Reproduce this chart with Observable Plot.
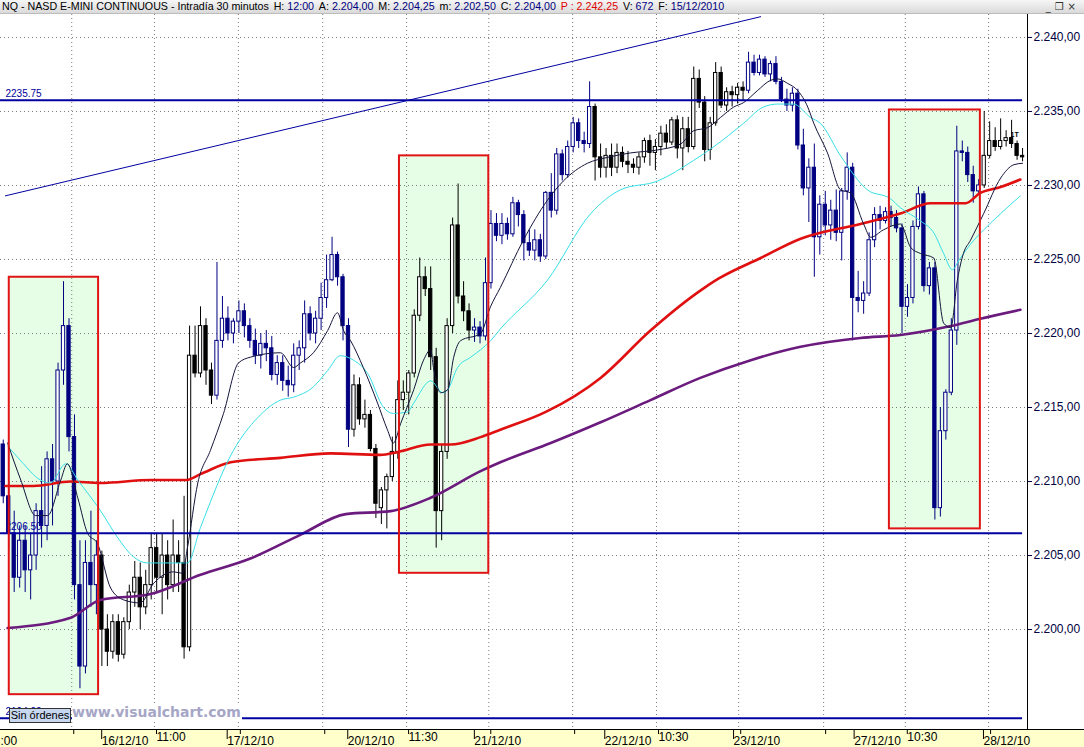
<!DOCTYPE html>
<html>
<head>
<meta charset="utf-8">
<script src="https://cdn.jsdelivr.net/npm/d3@7"></script>
<script src="https://cdn.jsdelivr.net/npm/@observablehq/plot@0.6"></script>
<style>
  body { margin: 0; width: 1084px; height: 747px; overflow: hidden; background: #fff; position: relative;
         font-family: "Liberation Sans", Arial, sans-serif; }
  #head { height: 14px; background: linear-gradient(#f6f6f6, #dadada); border-bottom: 1px solid #bcbcbc;
          box-sizing: border-box; position: relative; overflow: hidden; white-space: nowrap; }
  #title { position: absolute; left: 2px; top: 0; font: 11px/13px "Liberation Sans Narrow", "Liberation Sans", sans-serif;
           color: #000; transform-origin: 0 0; }
  #title .v { color: #000080; }
  #title .p { color: #e00000; }
  #title span.f { margin-right: 5px; }
  #btns { position: absolute; right: 4px; top: 0; font: 10px/13px "DejaVu Sans", sans-serif; color: #333; letter-spacing: 4px; }
  #chart { position: absolute; left: 0; top: 14px; }
  #mark { position: absolute; left: 72px; top: 704px; font: bold 14px "DejaVu Sans", sans-serif; color: #a6a6c6;
          background: #fff; line-height: 17px; padding-right: 1px; }
  #orders { position: absolute; left: 9px; top: 708px; width: 60px; height: 13px; background: #c6d7ef;
            border: 1px solid #333; font: 11px/13px "Liberation Sans", sans-serif; text-align: center; }
</style>
</head>
<body>
<div id="head"><div id="title"></div><div id="btns">_❐×</div></div>
<div id="chart"></div>
<div id="mark">www.visualchart.com</div>
<div id="orders">Sin órdenes</div>
<script>
/* Cabecera */
const titleText = "NQ - NASD E-MINI CONTINUOUS - Intradía 30 minutos"
const headerFields = [["H:", "12:00"], ["A:", "2.204,00"], ["M:", "2.204,25"], ["m:", "2.202,50"],
  ["C:", "2.204,00"], ["P :", "2.242,25"], ["V:", "672"], ["F:", "15/12/2010"]]

/* Velas de 1 hora (apertura, máximo, mínimo, cierre) */
const opens = [2212.5,2209,2206.5,2203.5,2206,2204,2205,2208,2207,2211.5,2210,2217.5,2220.5,2213,2203,2197.5,2204.5,2203,
  2205,2200,2198.5,2200.5,2198.3,2200.5,2202.5,2203.5,2201.5,2203,2205.5,2203.5,2205,2203,2205,2204.5,2198.8,
  2218.5,2217.3,2220.5,2217.5,2215.8,2219.5,2221,2220,2220.8,2221.5,2220.5,2219.5,2218.5,2219.3,2219,2217.2,2218,2216.8,
  2216.5,2218.5,2219,2221.3,2220,2221,2222.4,2223.6,2225.3,2223.8,2220.5,2213.5,2216.5,2214.2,2214.5,2212.2,2208.2,2209.4,
  2210.3,2212,2215.5,2216,2217.3,2221.2,2223.8,2223,2218.4,2208,2212,2220.5,2227.3,2222.5,2221.5,2220.2,2220.4,2219.8,
  2223.4,2227.4,2226.6,2227.4,2226.7,2228.8,2228,2226.1,2225.6,2226.3,2225.2,2229.5,2228.3,2232.1,2230.7,2232.6,2234.2,
  2233,2232.8,2235.3,2231.9,2231.2,2232,2231.2,2232.2,2231.6,2231.4,2231.2,2231.9,2233,2232.2,2232.6,2233.5,2232.9,
  2234.4,2232.5,2233.8,2232.6,2237.2,2235.6,2232.4,2234.2,2237.6,2235.4,2236.3,2236.1,2236.6,2236.4,2238.3,2237.6,
  2238.5,2237.5,2238.2,2237,2235.8,2235.4,2236.2,2232.7,2229.8,2231.2,2226.5,2228.7,2227.3,2228.3,2226.8,2229.6,
  2231.2,2222.4,2222.2,2222.7,2226.3,2228,2227.6,2228.2,2227.8,2227.1,2221.8,2222.4,2227.2,2229.4,2223.2,2224.4,
  2208.2,2213.4,2216,2220.2,2232.3,2232.2,2230.7,2229.6,2230,2232,2233,2232.6,2233,2233.2,2232.8,2232]
const highs = [2212.8,2210,2208,2207,2207,2206.5,2208.5,2211,2212,2212.5,2218,2223.5,2221,2214.5,2206,2206,2208,2206,
  2205.3,2201,2201,2201,2200.8,2203,2204.6,2204.5,2204,2206.5,2206.5,2206.5,2206,2207.4,2206,2209,2220.5,
  2220.5,2221.8,2221,2218,2224.8,2222.5,2221.8,2221,2222.2,2222,2221,2220.3,2220,2220.2,2219.8,2218.5,2218.5,2217.8,
  2219.3,2219.5,2222.2,2221.8,2221.5,2223.4,2225.3,2226.5,2225.5,2224,2221,2217.2,2217,2215.5,2214.8,2212.5,2209.6,2210.5,
  2213,2216.8,2216.8,2217.5,2221.6,2225.1,2224.5,2224.5,2219,2212.5,2221,2227.8,2230.1,2223.5,2222,2221,2220.8,2225.1,
  2228.3,2228.1,2228.1,2227.8,2229.2,2229,2228.3,2227,2227,2226.7,2229.6,2230.8,2232.5,2232.4,2233,2234.6,2234.5,
  2233.6,2237,2235.5,2232.8,2232.5,2232.8,2232.8,2232.6,2232.3,2231.8,2232.2,2233.2,2233.4,2233.1,2234,2234.1,2234.6,
  2234.7,2234.6,2234.6,2238,2237.8,2236,2234.6,2238.3,2238,2236.6,2236.7,2236.9,2237,2239,2238.8,2238.8,
  2238.7,2238.4,2238.7,2237.3,2236.5,2236.6,2236.5,2233.8,2231.8,2232.8,2229.3,2229.6,2229,2229.7,2229.8,2232.2,
  2231.5,2224.2,2223.5,2226.8,2228.5,2228.6,2228.5,2228.6,2228.3,2227.4,2223.3,2227.6,2229.9,2229.6,2224.8,2224.8,
  2215,2216.2,2221,2234,2233,2232.6,2231.3,2230.4,2235,2234.3,2233.9,2234.5,2233.7,2234.4,2233,2232.5]
const lows = [2208.5,2205.5,2202.5,2202.8,2202.5,2202,2204,2205.5,2206,2207,2209,2216.5,2212,2202,2196,2197,2201.5,2201,
  2197.5,2197.5,2198,2197.8,2198,2200,2201.5,2200,2201,2202,2202.5,2201,2202,2202.5,2202.5,2198,2198.5,
  2217,2217,2216.5,2215.2,2215.5,2219,2219.5,2219.3,2220,2219.7,2219,2217.9,2217.6,2218.1,2216.8,2216.5,2216.1,2215.7,
  2216,2217.5,2218,2219.5,2219.3,2220.2,2221.7,2223.5,2223.2,2219.5,2212.3,2213,2213.8,2213.6,2212,2207.5,2207.1,2206.8,
  2210,2211.5,2214.8,2214.5,2217,2220.8,2222.5,2217.5,2205.5,2206,2211.5,2220,2222,2220.8,2219.5,2219.4,2219.3,2219.5,
  2223,2226.2,2226,2226.3,2226.5,2227.2,2224.9,2225.2,2224.9,2224.8,2225,2227.8,2228,2230.3,2230.5,2232.2,2232.5,
  2232.2,2232.5,2230.3,2230.5,2230.5,2230.6,2230.8,2231.2,2230.8,2230.8,2230.7,2231.5,2231.3,2231,2232,2232.5,2232.7,
  2231.8,2231,2232.2,2232.4,2235.2,2231.6,2231.7,2234,2235.2,2235,2235.3,2235.5,2235.7,2236.2,2237.4,2237.4,
  2237.3,2237,2236.8,2235.6,2235,2235,2232.4,2229.3,2227.5,2223.8,2225.3,2226.6,2226.3,2226.2,2224.9,2229,
  2219.5,2221.4,2221.3,2222.5,2225.8,2227,2227.4,2227.2,2226.8,2220,2221.1,2222,2227,2222.8,2222.6,2207.4,
  2207.6,2212.8,2215.8,2219.2,2231.6,2230.2,2228.8,2229.4,2229.8,2231.8,2232.3,2232.4,2232.6,2232.5,2231.7,2231.6]
const closes = [2209,2206.5,2203.5,2206,2204,2205,2208,2207,2211.5,2210,2217.5,2220.5,2213,2203,2197.5,2204.5,2203,2205,
  2200,2198.5,2200.5,2198.3,2200.5,2202.5,2203.5,2201.5,2203,2205.5,2203.5,2205,2203,2205,2204.5,2198.8,2218.5,
  2217.3,2220.5,2217.5,2215.8,2219.5,2221,2220,2220.8,2221.5,2220.5,2219.5,2218.5,2219.3,2219,2217.2,2218,2216.8,2216.5,
  2218.5,2219,2221.3,2220,2221,2222.4,2223.6,2225.3,2223.8,2220.5,2213.5,2216.5,2214.2,2214.5,2212.2,2208.5,2209.4,2210.3,
  2212,2215.5,2216,2217.3,2221.2,2223.8,2223,2218.4,2208,2212,2220.5,2227.3,2222.5,2221.5,2220.2,2220.4,2219.8,2223.4,
  2227.4,2226.6,2227.4,2226.7,2228.8,2228,2226.1,2225.6,2226.3,2225.2,2229.5,2228.3,2232.1,2230.7,2232.6,2234.2,2233,
  2232.8,2235.3,2231.9,2231.2,2232,2231.2,2232.2,2231.6,2231.4,2231.2,2231.9,2233,2232.2,2232.6,2233.5,2232.9,2234.4,
  2232.5,2233.8,2232.6,2237.2,2235.6,2232.4,2234.2,2237.6,2235.4,2236.3,2236.1,2236.6,2236.4,2238.3,2237.6,2238.5,
  2237.5,2238.2,2237,2235.8,2235.4,2236.2,2232.7,2229.8,2231.2,2226.5,2228.7,2227.3,2228.3,2226.8,2229.6,2231.2,
  2222.4,2222.2,2222.7,2226.3,2228,2227.6,2228.2,2227.8,2227.1,2221.8,2222.4,2227.2,2229.4,2223.2,2224.4,2208.2,
  2213.4,2216,2220.2,2232.3,2232.2,2230.7,2229.6,2230,2232,2233,2232.6,2233,2233.2,2232.8,2232,2231.9]

/* Tramos en los que las velas salen en azul (índices de vela) */
const navyRuns = [[0, 17], [39, 63], [86, 107], [136, 178]]

/* Medias móviles: [vela, precio] */
const fastMA = [[0.8,2212.6],[3.2,2210.1],[5.9,2207.7],[8.1,2207.7],[10.5,2210.1],[11.7,2211.2],[13.6,2208.9],
  [15.4,2206.5],[17.2,2205.8],[19.6,2202.8],[22,2202],[25,2201.8],[27.4,2203.1],[31.1,2203.9],[32.7,2203.8],
  [33.6,2205.5],[35.5,2209.9],[37.8,2212.1],[40.2,2214.6],[42.9,2218],[45.1,2218.4],[50.6,2218.7],[53,2217.7],
  [54.2,2218],[56.6,2218.7],[59.2,2220.2],[61,2221.4],[62.1,2220.2],[63.4,2219.5],[65.7,2217.7],[68.3,2215.3],
  [70.1,2213.5],[71.2,2212.6],[72.5,2213.9],[74.9,2216.2],[76.7,2218.2],[78,2218.9],[78.5,2217.7],[79.8,2216],
  [81.1,2216.2],[82.2,2218.4],[83.4,2219.5],[87.1,2220],[88.9,2221.8],[90.7,2223.1],[94.9,2226.3],[99.3,2229],
  [102.2,2230.3],[106.6,2231.5],[110.3,2231.9],[114.5,2232.2],[119.4,2232.4],[123.6,2232.8],[126,2233.7],
  [128.5,2233.9],[130.9,2234.6],[133.3,2235.3],[135.1,2235.6],[137.6,2236.4],[140,2237.1],[141.3,2237.2],
  [143.1,2236.9],[145,2236.4],[146.8,2235.3],[147.9,2234.2],[150.4,2232.2],[152.8,2229.7],[154.6,2229.5],
  [157,2227.4],[158.3,2226.5],[160.6,2227],[163.7,2227.4],[165.6,2225.8],[167.4,2225.4],[169.8,2225.1],
  [171.6,2220.7],[172.9,2220.4],[174.1,2223.6],[175.2,2225.4],[176.5,2226.3],[178.9,2228.1],[182,2230.5],
  [184.4,2231.4],[186,2231.5]]
const midMA = [[0.8,2212.4],[3.2,2211.4],[6.8,2210.1],[8.6,2209.9],[11.4,2211.2],[13.6,2210.1],[17.8,2208],
  [20.9,2206.2],[23.8,2204.9],[26.3,2204.5],[32.4,2204.5],[33.6,2204.5],[36,2206.9],[42,2212.1],[46.4,2214.3],
  [50.6,2215.5],[53,2215.7],[56.6,2216.4],[59.2,2217.5],[61.5,2218.5],[63.9,2218.2],[66.5,2217.3],[69.4,2215],
  [71.2,2214.6],[73.8,2214.7],[74.9,2215.3],[78,2216.8],[80.2,2216],[81.1,2216.2],[82.9,2217.7],[85.3,2218.4],
  [87.1,2218.9],[88.9,2219.5],[90.7,2220.3],[99.3,2223.6],[107.2,2228.1],[112.6,2229.7],[119.4,2230.3],
  [126,2231.7],[129.6,2232.6],[135.1,2234.2],[138.7,2235.3],[141.3,2235.5],[144.2,2235.5],[147.3,2234.6],
  [149.1,2234.2],[152.8,2232],[157.7,2229.7],[161.9,2229.1],[163.7,2228.5],[167.4,2227.6],[169.8,2226.8],
  [171.6,2225.4],[173.2,2224.3],[174.3,2224.9],[177.1,2226.3],[178.9,2227],[182,2228.1],[185.6,2229.3]]
const redMA = [[0.4,2209.7],[5.5,2209.7],[12.3,2210],[17.7,2209.9],[26.9,2210.1],[33.3,2210.1],[36,2210.5],
  [41.5,2211.3],[50.6,2211.6],[59.7,2211.9],[68.8,2211.8],[72.1,2212],[78,2212.5],[81.6,2212.5],[87.1,2213],
  [90.7,2213.5],[99,2214.7],[109,2217],[118.1,2220.2],[127.2,2222.9],[130.5,2223.7],[138.2,2225.1],
  [145.5,2226.4],[156.4,2227.4],[163.7,2228.1],[169.2,2228.8],[175.6,2228.8],[178.3,2229.5],[182,2229.9],
  [185.6,2230.4]]
const purpleMA = [[0.8,2200.1],[12.3,2200.8],[17.7,2202],[26.9,2202.4],[36,2203.7],[45.1,2204.8],[54.2,2206.4],
  [62.5,2207.8],[70.7,2208],[78,2208.9],[87.1,2210.7],[90.7,2211.3],[99.9,2212.6],[109,2214],[118.1,2215.5],
  [127.2,2217],[136.4,2218.2],[145.5,2219.1],[156.4,2219.7],[163.7,2219.9],[172.9,2220.5],[178.3,2221],
  [185.6,2221.6]]

/* Directriz, niveles horizontales y zonas marcadas */
const trendLine = [[0.4, 2229.3], [138.2, 2241.4]]
const levelValues = [2235.75, 2206.5, 2194.0]
const levelLabels = ["2235.75", "2206.50", "2194.00"]
const zoneStart = [1.1, 72.3, 161.7]
const zoneEnd = [17.4, 88.6, 178.3]
const zoneLow = [2195.6, 2203.8, 2206.8]
const zoneHigh = [2223.8, 2232.0, 2235.1]

/* Ejes */
const yTicks = [2200, 2205, 2210, 2215, 2220, 2225, 2230, 2235, 2240]
const gridSlots = [12.5, 27.6, 42.9, 58.3, 73.6, 88.6, 103.9, 119.2, 134.2, 149.7, 164.6, 179.8]
const gridLabels = ["", "11:00", "", "", "11:30", "", "", "10:30", "", "", "10:30", ""]
const daySlots = [17.6, 40.5, 62.5, 85.6, 109.4, 132.9, 154.9, 178.5]
const dayLabels = ["16/12/10", "17/12/10", "20/12/10", "21/12/10", "22/12/10", "23/12/10", "27/12/10", "28/12/10"]

/* Cabecera */
const title = document.getElementById('title')
title.innerHTML = `<span class="f">${titleText}</span>` + headerFields.map(([k, v]) =>
  k.startsWith('P') ? `<span class="f p">${k} ${v}</span>` : `<span class="f">${k} <span class="v">${v}</span></span>`
).join('')

const fmt = d3.formatLocale({decimal: ',', thousands: '.', grouping: [3]}).format(',.2f')

const candles = opens.map((o, i) => ({
  i, open: o, high: highs[i], low: lows[i], close: closes[i],
  navy: navyRuns.some(([a, b]) => i >= a && i <= b)
}))
const ink = d => d.navy ? '#000080' : '#000000'
const pts = arr => arr.map(([s, v]) => ({s, v}))
const levels = levelValues.map((v, k) => ({value: v, label: levelLabels[k]}))
const zones = zoneStart.map((s, k) => ({x1: s, x2: zoneEnd[k], lo: zoneLow[k], hi: zoneHigh[k]}))
const dayMap = new Map(daySlots.map((s, k) => [s, dayLabels[k]]))
const gridMap = new Map(gridSlots.map((s, k) => [s, gridLabels[k]]))
const lastSlot = candles.length - 1

const chart = Plot.plot({
  width: 1084,
  height: 733,
  marginLeft: 0,
  marginRight: 57,
  marginTop: 0,
  marginBottom: 17,
  x: {domain: [-0.5, 186.9]},
  y: {domain: [2193.18, 2241.55]},
  color: {type: 'identity'},
  style: {
    fontFamily: '"Liberation Sans", Arial, sans-serif',
    fontSize: '12px',
    background: 'linear-gradient(#fff 0 715px, #000 715px 716px, #ffffcc 716px)'
  },
  marks: [
    Plot.rect(zones, {x1: 'x1', x2: 'x2', y1: 'lo', y2: 'hi', fill: '#e6fde6'}),
    Plot.gridY(yTicks, {stroke: '#7a7a7a', strokeOpacity: 1, strokeDasharray: '1,3'}),
    Plot.gridX(gridSlots, {stroke: '#7a7a7a', strokeOpacity: 1, strokeDasharray: '1,3'}),

    // velas
    Plot.ruleX(candles, {x: 'i', y1: 'low', y2: 'high', stroke: ink, strokeWidth: 1}),
    Plot.rect(candles, {
      x1: d => d.i - 0.3,
      x2: d => d.i + 0.3,
      y1: d => Math.min(d.open, d.close),
      y2: d => Math.max(d.open, d.close),
      fill: d => d.close >= d.open ? '#ffffff' : ink(d),
      stroke: ink,
      strokeWidth: 1
    }),

    // medias
    Plot.line(pts(purpleMA), {x: 's', y: 'v', stroke: '#6b1a7d', strokeWidth: 2.6, curve: 'monotone-x'}),
    Plot.line(pts(redMA), {x: 's', y: 'v', stroke: '#e01010', strokeWidth: 2.6, curve: 'monotone-x'}),
    Plot.line(pts(midMA), {x: 's', y: 'v', stroke: '#36dfe6', strokeWidth: 1, curve: 'monotone-x'}),
    Plot.line(pts(fastMA), {x: 's', y: 'v', stroke: '#14143c', strokeWidth: 1, curve: 'monotone-x'}),

    // líneas dibujadas
    Plot.line(pts(trendLine), {x: 's', y: 'v', stroke: '#0000a0', strokeWidth: 1}),
    Plot.ruleY(levels, {y: 'value', x1: -0.5, x2: lastSlot, stroke: '#0000a0', strokeWidth: 2}),
    Plot.text(levels, {x: -0.5, y: 'value', text: 'label', textAnchor: 'start', dx: 5, dy: -7,
      fill: '#0000a0', fontSize: 10}),
    Plot.rect(zones, {x1: 'x1', x2: 'x2', y1: 'lo', y2: 'hi', fill: 'none', stroke: '#e01414', strokeWidth: 2}),
    Plot.text([candles[184]], {x: 'i', y: 'close', text: () => '1T', textAnchor: 'start', dx: -1, dy: -9,
      fontSize: 7, fontWeight: 'bold', fill: '#000'}),

    // ejes
    Plot.ruleX([186.9], {stroke: '#000'}),
    Plot.axisY(yTicks, {anchor: 'right', tickFormat: fmt, tickSize: 4, tickPadding: 2, fontSize: 12,
      color: '#000040', label: null}),
    Plot.axisX(gridSlots, {anchor: 'bottom', tickSize: 4, tickPadding: -2, textAnchor: 'start', dx: 2,
      tickFormat: d => gridMap.get(d), fontSize: 12, color: '#000', label: null}),
    Plot.axisX(daySlots, {anchor: 'bottom', tickSize: 9, tickPadding: -3, textAnchor: 'start', dx: 2,
      tickFormat: d => dayMap.get(d), fontSize: 12, color: '#000', label: null}),
    Plot.text([':00'], {frameAnchor: 'bottom-left', textAnchor: 'start', lineAnchor: 'top', dy: 6,
      fontSize: 12, fill: '#000'})
  ]
})

d3.select('#chart svg').remove()
d3.select('#chart').append(() => chart)

/* Ajusta el ancho de la cabecera al original */
const w = title.getBoundingClientRect().width
title.style.transform = `scaleX(${727 / w})`
</script>
</body>
</html>
